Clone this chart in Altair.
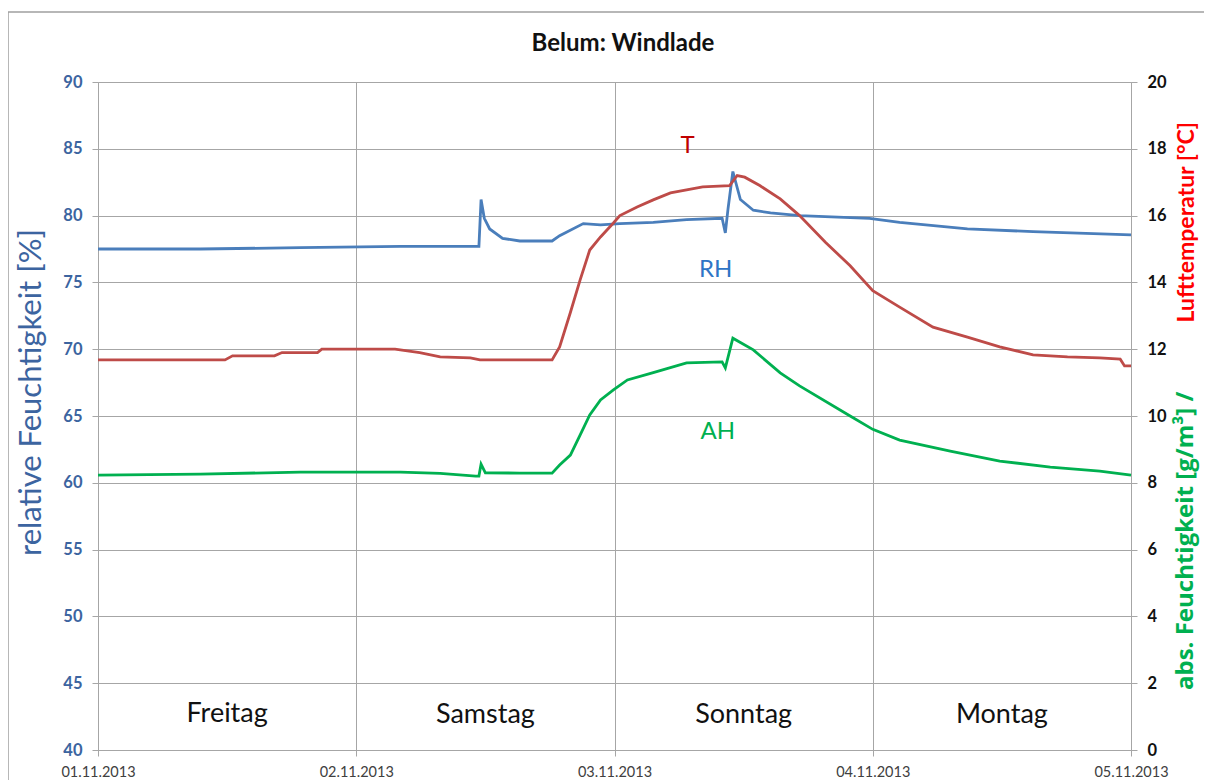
import altair as alt
import pandas as pd

# ---------------- data (hours since 01.11.2013 00:00) ----------------
rh_hours = [0, 9.5, 18.8, 28.1, 35.4, 35.6, 35.9, 36.4, 37.6, 39.2, 42.2, 42.9, 45.1, 46.7,
            48.5, 51.6, 54.7, 58.0, 58.3, 58.55, 59.0, 59.7, 60.9, 62.5, 65.2, 71.7, 74.5,
            80.8, 86.9, 96.0]
rh_values = [77.5, 77.5, 77.6, 77.7, 77.7, 81.2, 79.8, 79.0, 78.3, 78.1, 78.1, 78.5, 79.4, 79.3,
             79.4, 79.5, 79.7, 79.8, 78.7, 80.5, 83.3, 81.2, 80.4, 80.2, 80.0, 79.8, 79.5,
             79.0, 78.8, 78.55]

t_hours = [0, 11.8, 12.5, 16.4, 17.1, 20.4, 20.8, 27.6, 29.9, 31.8, 34.6, 35.5, 42.2, 42.9,
           43.9, 44.8, 45.7, 46.7, 47.9, 48.5, 50.1, 51.6, 53.2, 56.2, 58.7, 59.4, 60.1, 61.5,
           63.4, 65.2, 67.6, 69.9, 72.0, 74.5, 77.6, 80.8, 83.8, 86.9, 90.1, 93.1, 95.0, 95.4,
           96.0]
t_values = [11.68, 11.68, 11.8, 11.8, 11.9, 11.9, 12.0, 12.0, 11.9, 11.77, 11.74, 11.68, 11.68,
            12.07, 13.1, 14.07, 14.97, 15.36, 15.78, 16.0, 16.26, 16.47, 16.68, 16.86, 16.9,
            17.2, 17.15, 16.9, 16.5, 16.0, 15.2, 14.5, 13.75, 13.26, 12.66, 12.36, 12.07, 11.83,
            11.77, 11.74, 11.7, 11.5, 11.5]

ah_hours = [0, 9.5, 18.8, 28.1, 31.8, 35.1, 35.4, 35.6, 36.0, 39.2, 42.2, 42.9, 43.9, 44.8,
            45.7, 46.7, 47.9, 49.2, 51.6, 54.7, 58.0, 58.3, 59.0, 60.9, 63.4, 65.2, 69.9, 72.0,
            74.5, 79.2, 83.8, 88.5, 93.1, 96.0]
ah_values = [8.23, 8.26, 8.32, 8.32, 8.28, 8.2, 8.2, 8.56, 8.3, 8.29, 8.29, 8.53, 8.83, 9.43,
             10.03, 10.48, 10.78, 11.08, 11.3, 11.59, 11.62, 11.44, 12.33, 11.98, 11.29, 10.9,
             10.0, 9.6, 9.28, 8.95, 8.65, 8.47, 8.35, 8.23]

day_names = ["Freitag", "Samstag", "Sonntag", "Montag"]
day_hours = [12, 36, 60, 84]
day_level = [42.7, 42.6, 42.6, 42.6]

ann_labels = ["T", "RH", "AH"]
ann_hours = [54.8, 57.4, 57.6]
ann_values = [85.2, 75.9, 63.8]
ann_colors = ["#c00000", "#2e75c6", "#00b050"]

left_ticks = [40, 45, 50, 55, 60, 65, 70, 75, 80, 85, 90]
right_ticks = [0, 2, 4, 6, 8, 10, 12, 14, 16, 18, 20]

chart_title = "Belum: Windlade"
right_title_green = "abs. Feuchtigkeit [g/m³] /"
right_title_red = "Lufttemperatur [°C]"

start = pd.Timestamp("2013-11-01")


def stamps(hours):
    return [(start + pd.Timedelta(hours=h)).strftime("%Y-%m-%dT%H:%M:%S") for h in hours]


rh_df = pd.DataFrame({"t": stamps(rh_hours), "v": rh_values})
t_df = pd.DataFrame({"t": stamps(t_hours), "v": t_values})
ah_df = pd.DataFrame({"t": stamps(ah_hours), "v": ah_values})
day_df = pd.DataFrame({"t": stamps(day_hours), "v": day_level, "label": day_names})
ann_df = pd.DataFrame({"t": stamps(ann_hours), "v": ann_values, "label": ann_labels,
                       "c": ann_colors})

GRID = "#a6a6a6"
FONT = "Lato"

x_axis = alt.Axis(values=[alt.DateTime(year=2013, month=11, date=d) for d in range(1, 6)],
                  format="%d.%m.%Y", title=None, labelFontSize=14.5, labelColor="#404040",
                  labelFont=FONT, grid=True, gridColor=GRID, domainColor=GRID, tickColor=GRID,
                  tickSize=6, labelPadding=9, labelFlush=False, labelOverlap=False)
X = alt.X("t:T", axis=x_axis,
          scale=alt.Scale(domain=[alt.DateTime(year=2013, month=11, date=1),
                                  alt.DateTime(year=2013, month=11, date=5)]))

left_scale = alt.Scale(domain=[40, 90], nice=False, zero=False)
right_scale = alt.Scale(domain=[0, 20], nice=False)

Y_left = alt.Y("v:Q", scale=left_scale,
               axis=alt.Axis(orient="left", values=left_ticks, title="relative Feuchtigkeit [%]",
                             titleFontSize=31, titleFontWeight="normal", titleColor="#3c64a0",
                             titleFont=FONT, titleX=-51, titleY=310,
                             labelFontSize=16.5, labelFontWeight="bold", labelColor="#3c64a0",
                             labelFont=FONT, labelPadding=10, tickSize=6, tickColor=GRID,
                             domainColor=GRID, grid=True, gridColor=GRID))
Y_right = alt.Y("v:Q", scale=right_scale,
                axis=alt.Axis(orient="right", values=right_ticks, title=None,
                              labelFontSize=16.5, labelFontWeight="bold", labelColor="#111111",
                              labelFont=FONT, labelPadding=10, tickSize=6, tickColor=GRID,
                              domainColor=GRID, grid=False))

rh_line = alt.Chart(rh_df).mark_line(color="#4a7ebb", strokeWidth=2.8).encode(x=X, y=Y_left)
day_text = alt.Chart(day_df).mark_text(fontSize=27, font=FONT, color="#111111").encode(
    x=X, y=Y_left, text="label:N")
ann_text = alt.Chart(ann_df).mark_text(fontSize=24, font=FONT).encode(
    x=X, y=Y_left, text="label:N", color=alt.Color("c:N", scale=None))

t_line = alt.Chart(t_df).mark_line(color="#be4b48", strokeWidth=2.8).encode(x=X, y=Y_right)
ah_line = alt.Chart(ah_df).mark_line(color="#00b050", strokeWidth=2.8).encode(x=X, y=Y_right)

# right axis title in two colours
green_title = alt.Chart(pd.DataFrame({"s": [right_title_green]})).mark_text(
    angle=270, align="left", baseline="middle", fontSize=24, fontWeight="bold",
    font="Open Sans", color="#00b050").encode(x=alt.value(1088), y=alt.value(608), text="s:N")
red_title = alt.Chart(pd.DataFrame({"s": [right_title_red]})).mark_text(
    angle=270, align="right", baseline="middle", fontSize=23, fontWeight="bold", font=FONT,
    color="#ff0000").encode(x=alt.value(1089), y=alt.value(40), text="s:N")

title_text = alt.Chart(pd.DataFrame({"s": [chart_title]})).mark_text(
    fontSize=24, fontWeight="bold", font=FONT, color="#111111", baseline="middle").encode(
    x=alt.value(525), y=alt.value(-38), text="s:N")

frame = alt.Chart(pd.DataFrame({"a": [0]})).mark_rect(
    fill=None, stroke="#a0a0a0", strokeWidth=1.5).encode(
    x=alt.value(-90), y=alt.value(-70), x2=alt.value(1300), y2=alt.value(900))

left_layer = alt.layer(rh_line, day_text, ann_text, frame, title_text)
right_layer = alt.layer(t_line, ah_line, green_title, red_title)

chart = alt.layer(left_layer, right_layer).resolve_scale(y="independent").properties(
    width=1033, height=668,
    autosize=alt.AutoSizeParams(type="none"),
    padding={"left": 90, "top": 74, "right": 73, "bottom": 30},
).configure_view(stroke=None).configure(background="white")

chart.save("out.html", embed_options={"renderer": "svg", "actions": False})
